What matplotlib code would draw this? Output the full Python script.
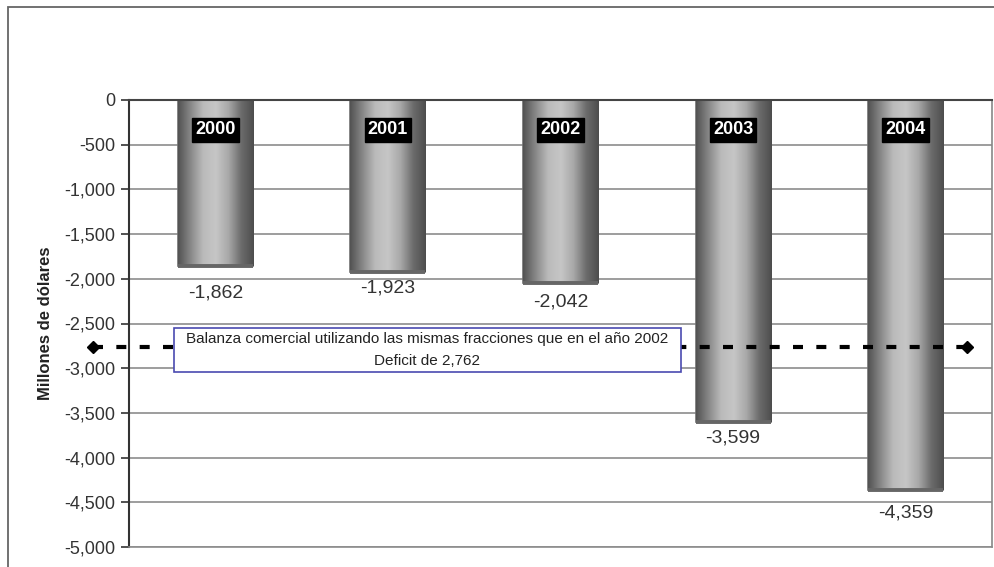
import numpy as np
import matplotlib
matplotlib.use("Agg")
import matplotlib.pyplot as plt
from matplotlib.colors import LinearSegmentedColormap
from matplotlib.patches import Rectangle
from matplotlib.ticker import FuncFormatter, MultipleLocator

# ---- data ----
years = ["2000", "2001", "2002", "2003", "2004"]
balance = [-1862, -1923, -2042, -3599, -4359]
reference_value = -2762
box_text = "Balanza comercial utilizando las mismas fracciones que en el año 2002\nDeficit de 2,762"
y_label = "Millones de dólares"

# ---- styling ----
label_dy = [-27, -16, -19, -16, -23]  # pixel offsets of value labels below bar ends
plt.rcParams['font.family'] = ['Liberation Sans', 'DejaVu Sans']

W, H = 995, 567
fig = plt.figure(figsize=(W / 100, H / 100), dpi=100)
fig.patch.set_facecolor("white")

# outer chart frame (cropped on right/bottom)
fig.patches.append(Rectangle((8 / W, -0.2), 1.2, 1 - 7 / H + 0.2, transform=fig.transFigure,
                             fill=False, edgecolor="#666666", lw=1.3, clip_on=False))

ax = fig.add_axes([129 / W, (H - 547) / H, (992 - 129) / W, (547 - 100) / H])
x = np.arange(len(years))
bw = 0.435

ax.set_xlim(-0.5, len(years) - 0.5)
ax.set_ylim(-5000, 0)

# gradient colormap (cylinder look)
cmap = LinearSegmentedColormap.from_list(
    "cyl", ["#525252", "#888888", "#bbbbbb", "#c6c6c6", "#a8a8a8", "#6c6c6c", "#4d4d4d"])
grad = np.linspace(0, 1, 256).reshape(1, -1)

bars = ax.bar(x, balance, width=bw, color="#999999", edgecolor="#707070", lw=1.2, zorder=2)
for b, xi, v in zip(bars, x, balance):
    im = ax.imshow(grad, cmap=cmap, aspect="auto",
                   extent=(xi - bw / 2, xi + bw / 2, v, 0), zorder=2.1, interpolation="bilinear")
    im.set_clip_path(b)
    # bottom shadow edge
    ax.plot([xi - bw / 2, xi + bw / 2], [v, v], color="#666666", lw=2.8, zorder=2.2,
            solid_capstyle="butt")

ax.set_xlim(-0.5, len(years) - 0.5)
ax.set_ylim(-5000, 0)

# year labels inside bars
for xi, yr in zip(x, years):
    ax.annotate(yr, (xi, 0), xytext=(0, -30), textcoords="offset pixels",
                ha="center", va="center", color="white", fontsize=13, fontweight="bold",
                bbox=dict(boxstyle="square,pad=0.18", fc="black", ec="black"), zorder=5)

# value labels below bars
for xi, v, dy in zip(x, balance, label_dy):
    ax.annotate(f"{v:,}", (xi, v), xytext=(0, dy), textcoords="offset pixels",
                ha="center", va="center", color="#333333", fontsize=14, zorder=5)

# reference dashed line with diamond ends
ax.plot([-0.71, 4.355], [reference_value, reference_value], color="black", lw=3,
        linestyle=(0, (2.4, 3.2)), marker="D", markersize=6.5, markevery=[0, 1],
        clip_on=False, zorder=3)

# annotation box
bx0, bx1 = (174 - 129) / (992 - 129), (681 - 129) / (992 - 129)
by0, by1 = (547 - 372) / (547 - 100), (547 - 328) / (547 - 100)
ax.add_patch(Rectangle((bx0, by0), bx1 - bx0, by1 - by0, transform=ax.transAxes,
                       facecolor="white", edgecolor="#4a4ab0", lw=1.2, zorder=4))
ax.text((bx0 + bx1) / 2, (by0 + by1) / 2, box_text, transform=ax.transAxes,
        ha="center", va="center", fontsize=11, color="#222222", linespacing=1.8, zorder=4.5)

# axes styling
ax.yaxis.set_major_locator(MultipleLocator(500))
ax.yaxis.set_major_formatter(FuncFormatter(lambda v, p: f"{int(v):,}"))
ax.set_xticks([])
ax.grid(axis="y", color="#8c8c8c", lw=1.2, zorder=0)
ax.set_axisbelow(True)
ax.tick_params(axis="y", direction="out", length=6, width=1.2, color="#333333",
               labelsize=13, labelcolor="#333333", pad=4)
ax.spines["left"].set_color("#333333")
ax.spines["left"].set_linewidth(1.5)
ax.spines["top"].set_color("#444444")
ax.spines["top"].set_linewidth(1.5)
ax.spines["right"].set_color("#888888")
ax.spines["right"].set_linewidth(1.2)
ax.spines["bottom"].set_color("#8c8c8c")
ax.spines["bottom"].set_linewidth(1.2)

ax.set_ylabel(y_label, fontsize=12, fontweight="bold", color="#222222", labelpad=8)

fig.savefig("out.png", dpi=100)
